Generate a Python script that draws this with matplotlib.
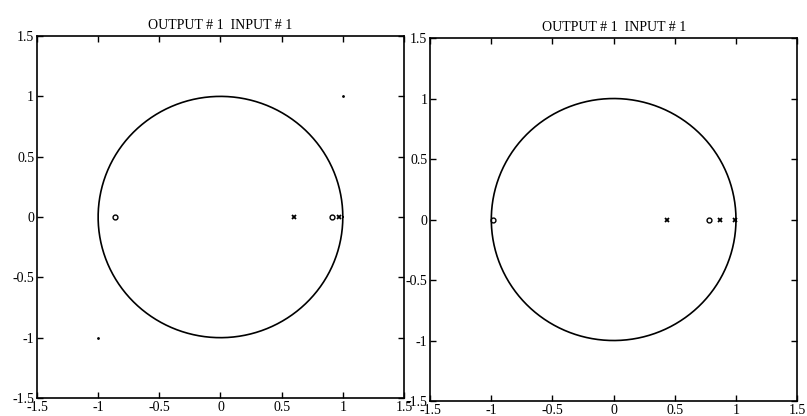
import numpy as np
import matplotlib
matplotlib.use('Agg')
import matplotlib.pyplot as plt

plt.rcParams['font.family'] = ['Liberation Serif', 'DejaVu Serif']

ticks = [-1.5, -1, -0.5, 0, 0.5, 1, 1.5]
tick_labels = ['-1.5', '-1', '-0.5', '0', '0.5', '1', '1.5']

# left plot: zeros (o), poles (x), stray dots
zeros_l = [-0.86, 0.91]
poles_l = [0.605, 0.97]
dots_l_x = [1.0, -1.0]
dots_l_y = [1.0, -1.0]

# right plot
zeros_r = [-0.99, 0.78]
poles_r = [0.44, 0.87, 0.99]

theta = np.linspace(0, 2 * np.pi, 400)

fig = plt.figure(figsize=(8.07, 4.16), dpi=100)
ax1 = fig.add_axes([0.0458, 0.0433, 0.4548, 0.870])
ax2 = fig.add_axes([0.533, 0.036, 0.4548, 0.8726])

def draw(ax, zeros, poles):
    ax.plot(np.cos(theta), np.sin(theta), color='black', lw=1.2)
    ax.plot(zeros, [0] * len(zeros), 'o', mfc='none', mec='black', ms=3.5, mew=1)
    ax.plot(poles, [0] * len(poles), 'x', color='black', ms=3.5, mew=1.3)
    ax.set_xlim(-1.5, 1.5)
    ax.set_ylim(-1.5, 1.5)
    ax.set_xticks(ticks)
    ax.set_yticks(ticks)
    ax.set_xticklabels(tick_labels)
    ax.set_yticklabels(tick_labels)
    ax.tick_params(direction='in', length=4, width=1, top=True, right=True,
                   labelsize=10, pad=2)
    for s in ax.spines.values():
        s.set_linewidth(1.2)
    ax.set_title('OUTPUT # 1  INPUT # 1', fontsize=10, pad=5)

draw(ax1, zeros_l, poles_l)
ax1.plot(dots_l_x, dots_l_y, '.', color='black', ms=2)
draw(ax2, zeros_r, poles_r)

plt.savefig('out.png', dpi=100)
